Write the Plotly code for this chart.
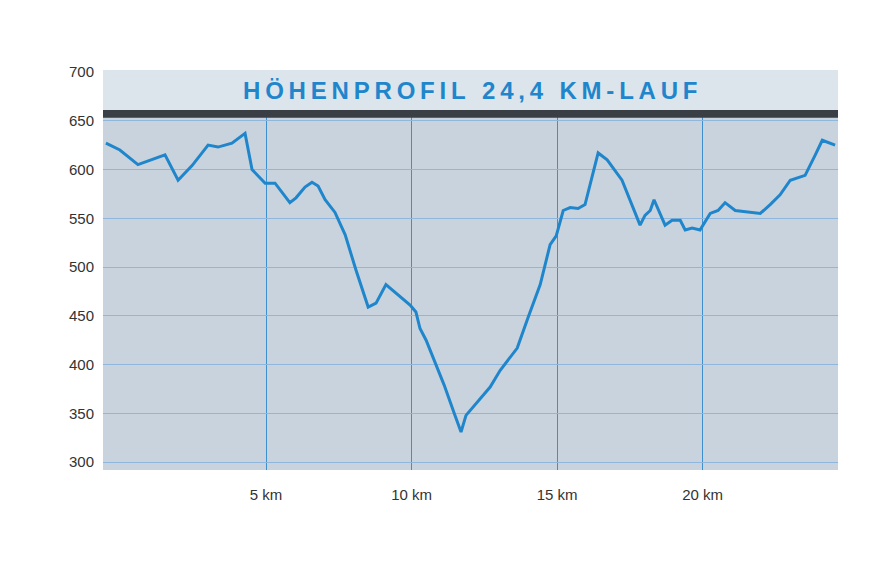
import plotly.graph_objects as go

km = [-0.50,-0.02,0.60,1.53,1.98,2.46,3.01,3.35,3.83,4.28,4.52,4.97,5.31,5.82,6.03,6.34,6.58,6.79,7.03,7.37,7.72,8.09,8.51,8.78,9.12,9.54,9.95,10.15,10.29,10.50,10.74,11.12,11.49,11.70,11.87,12.18,12.46,12.70,13.04,13.63,14.00,14.42,14.76,14.97,15.21,15.45,15.72,15.96,16.41,16.72,17.23,17.51,17.85,18.02,18.20,18.33,18.54,18.71,18.95,19.23,19.40,19.64,19.91,20.26,20.53,20.77,21.12,21.63,21.98,22.32,22.66,23.01,23.28,23.52,23.87,24.11,24.55]
hoehe = [627,620,605,615,589,604,625,623,627,637,600,586,586,566,571,582,587,583,569,556,533,497,459,463,482,471,461,454,437,425,407,379,348,331,348,359,369,377,394,417,448,482,523,532,558,561,560,564,617,610,589,569,543,553,558,569,555,543,548,548,538,540,538,555,558,566,558,556,555,564,574,589,592,594,615,630,625]
x_ticks = [5, 10, 15, 20]
x_labels = ["5 km", "10 km", "15 km", "20 km"]
y_ticks = [300, 350, 400, 450, 500, 550, 600, 650, 700]
title = "HÖHENPROFIL 24,4 KM-LAUF"

spaced = "\u2009".join(title)

fig = go.Figure()
fig.add_trace(go.Scatter(x=km, y=hoehe, mode="lines",
                         line=dict(color="#1f86cc", width=3), hoverinfo="skip"))
fig.update_layout(
    width=879, height=567, margin=dict(l=95, r=49, t=62, b=105),
    paper_bgcolor="white", plot_bgcolor="#c9d3de", showlegend=False,
    font=dict(family="Liberation Sans, Arial", color="#333333", size=15),
    xaxis=dict(range=[-0.6, 24.65], tickvals=x_ticks, ticktext=x_labels,
               showgrid=True, gridcolor="#3d8fd0", gridwidth=1.2,
               zeroline=False, ticks="", showline=False, ticklabelstandoff=14),
    yaxis=dict(range=[292, 702], tickvals=y_ticks, showgrid=True,
               gridcolor="#8fb6dc", gridwidth=1, zeroline=False,
               ticks="", ticklabelstandoff=8),
    shapes=[
        dict(type="rect", xref="paper", yref="y", x0=0, x1=1, y0=661, y1=702,
             fillcolor="#dce4ec", line=dict(width=0), layer="above"),
        dict(type="rect", xref="paper", yref="y", x0=0, x1=1, y0=653, y1=661,
             fillcolor="#3a3f45", line=dict(width=0), layer="above"),
    ],
    annotations=[dict(text="<b>" + spaced + "</b>", xref="paper", yref="y",
                      x=0.5, y=681.5, showarrow=False,
                      font=dict(size=24, color="#1f86cc", family="Liberation Sans, Arial"))],
)
fig.write_html("out.html")
